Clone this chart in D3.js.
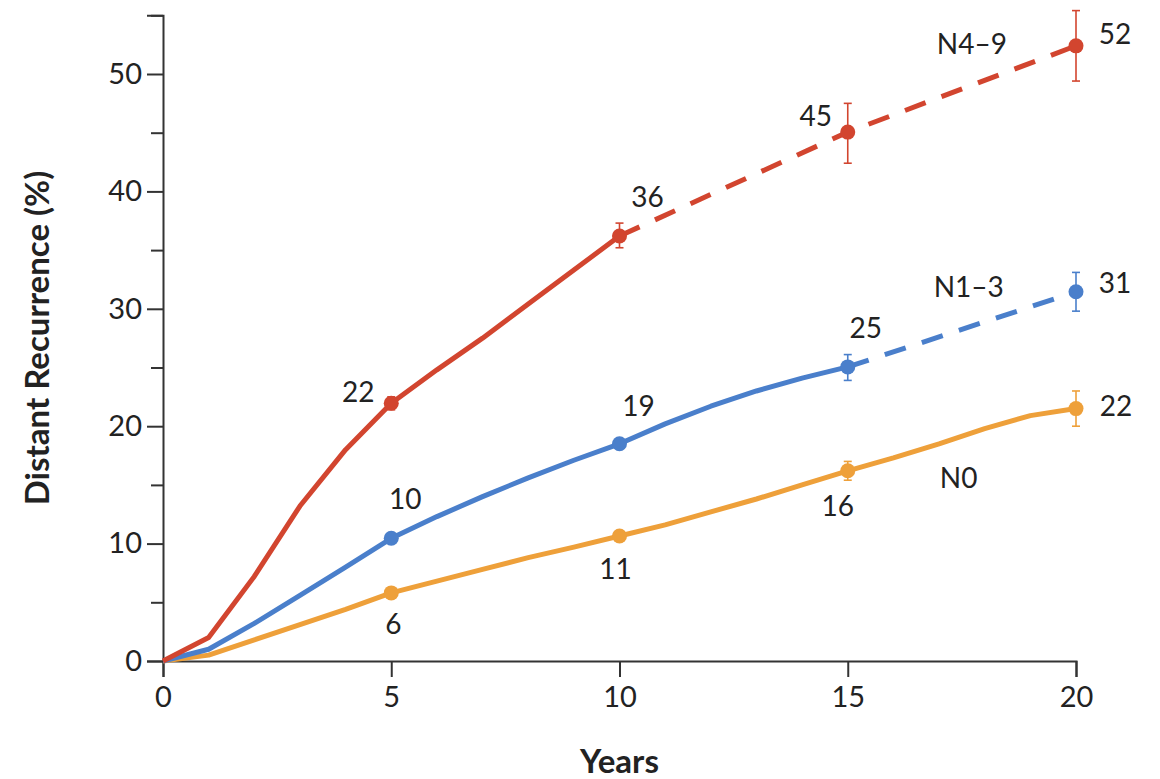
<!DOCTYPE html>
<html>
<head>
<meta charset="utf-8">
<script src="https://cdn.jsdelivr.net/npm/d3@7/dist/d3.min.js"></script>
<style>
  html, body { margin: 0; padding: 0; background: #fff; }
  svg { display: block; }
  text { font-family: Lato, "Noto Sans", sans-serif; fill: #222; }
</style>
</head>
<body>
<svg id="chart" width="1160" height="779"></svg>
<script>
// Cumulative distant recurrence (%) by nodal status, yearly estimates
const years = d3.range(0, 21);
const yearsN0 = years;
const valuesN0 = [0, 0.5, 1.8, 3.1, 4.4, 5.8, 6.8, 7.8, 8.8, 9.7, 10.65,
                  11.6, 12.7, 13.8, 15.0, 16.2, 17.3, 18.5, 19.8, 20.9, 21.5];

const yearsN13Solid = d3.range(0, 16);
const valuesN13Solid = [0, 1.0, 3.2, 5.6, 8.0, 10.45, 12.3, 14.0, 15.6, 17.1, 18.5,
                        20.2, 21.7, 23.0, 24.1, 25.05];
const yearsN13Dashed = [15, 20];
const valuesN13Dashed = [25.05, 31.45];

const yearsN49Solid = d3.range(0, 11);
const valuesN49Solid = [0, 2.0, 7.2, 13.2, 18.0, 21.95, 24.8, 27.5, 30.4, 33.3, 36.2];
const yearsN49Dashed = [10, 15, 20];
const valuesN49Dashed = [36.2, 45.05, 52.4];

// Marked time points with 95% intervals
const markYears = [5, 10, 15, 20];
const markN0 = [5.8, 10.65, 16.2, 21.5];
const lowN0 = [5.4, 10.3, 15.4, 20.0];
const highN0 = [6.2, 11.0, 17.0, 23.0];
const markN13 = [10.45, 18.5, 25.05, 31.45];
const lowN13 = [10.1, 18.1, 23.9, 29.8];
const highN13 = [10.8, 18.9, 26.1, 33.1];
const markN49 = [21.95, 36.2, 45.05, 52.4];
const lowN49 = [21.4, 35.2, 42.4, 49.4];
const highN49 = [22.5, 37.3, 47.5, 55.4];

const seriesNames = ["N0", "N1\u20133", "N4\u20139"];
const xTicks = [0, 5, 10, 15, 20];
const yTicks = [0, 10, 20, 30, 40, 50];
const yMinorTicks = [5, 15, 25, 35, 45, 55];

// ---- layout ----
const svg = d3.select("#chart");
const x = d3.scaleLinear().domain([0, 20]).range([163, 1076]);
const y = d3.scaleLinear().domain([0, 55]).range([661, 15.3]);

const colors = { n0: "#eea03a", n13: "#4a7fcb", n49: "#d2452f" };
const axisColor = "#333";

// axes
const yMinor = svg.append("g").attr("transform", `translate(${x(0)},0)`)
  .call(d3.axisLeft(y).tickValues(yMinorTicks).tickSize(12).tickFormat(""));
const yAxis = svg.append("g").attr("transform", `translate(${x(0)},0)`)
  .call(d3.axisLeft(y).tickValues(yTicks).tickSize(16).tickPadding(5).tickFormat(d3.format("d")));
const xAxis = svg.append("g").attr("transform", `translate(0,${y(0)})`)
  .call(d3.axisBottom(x).tickValues(xTicks).tickSize(16).tickPadding(9).tickFormat(d3.format("d")));

[yMinor, yAxis, xAxis].forEach(g => {
  g.selectAll("path.domain").attr("stroke", axisColor).attr("stroke-width", 2);
  g.selectAll(".tick line").attr("stroke", axisColor).attr("stroke-width", 2);
  g.selectAll(".tick text").style("font-size", "29px").attr("fill", "#222");
});
yMinor.select("path.domain").remove();

// axis titles
svg.append("text")
  .attr("transform", `translate(49,338) rotate(-90)`)
  .attr("text-anchor", "middle")
  .style("font-size", "33px").style("font-weight", "bold")
  .text("Distant Recurrence (%)");
svg.append("text")
  .attr("x", x(10)).attr("y", 773)
  .attr("text-anchor", "middle")
  .style("font-size", "33px").style("font-weight", "bold")
  .text("Years");

// lines
const line = d3.line().x(d => x(d[0])).y(d => y(d[1]));
function drawLine(xs, vs, color, dashed) {
  svg.append("path")
    .datum(xs.map((t, i) => [t, vs[i]]))
    .attr("d", line)
    .attr("fill", "none")
    .attr("stroke", color)
    .attr("stroke-width", 5)
    .attr("stroke-linejoin", "round")
    .attr("stroke-dasharray", dashed ? "22,17" : null);
}
drawLine(yearsN0, valuesN0, colors.n0, false);
drawLine(yearsN13Solid, valuesN13Solid, colors.n13, false);
drawLine(yearsN13Dashed, valuesN13Dashed, colors.n13, true);
drawLine(yearsN49Solid, valuesN49Solid, colors.n49, false);
drawLine(yearsN49Dashed, valuesN49Dashed, colors.n49, true);

// error bars and point markers
function drawMarks(vals, lows, highs, color) {
  const g = svg.append("g");
  markYears.forEach((t, i) => {
    const cx = x(t);
    g.append("line").attr("x1", cx).attr("x2", cx)
      .attr("y1", y(lows[i])).attr("y2", y(highs[i]))
      .attr("stroke", color).attr("stroke-width", 1.6);
    [lows[i], highs[i]].forEach(v => {
      g.append("line").attr("x1", cx - 4).attr("x2", cx + 4)
        .attr("y1", y(v)).attr("y2", y(v))
        .attr("stroke", color).attr("stroke-width", 1.6);
    });
    g.append("circle").attr("cx", cx).attr("cy", y(vals[i])).attr("r", 7.5).attr("fill", color);
  });
}
drawMarks(markN0, lowN0, highN0, colors.n0);
drawMarks(markN13, lowN13, highN13, colors.n13);
drawMarks(markN49, lowN49, highN49, colors.n49);

// value labels, offset in pixels from each marker
const labelOffsets = {
  n49: [[-33, -12], [28, -40], [-32, -17], [39, -13]],
  n13: [[14, -40], [19, -39], [18, -40], [39, -10]],
  n0:  [[2, 30], [-4, 32], [-10, 34], [40, -4]]
};
function drawValueLabels(vals, offsets) {
  markYears.forEach((t, i) => {
    svg.append("text")
      .attr("x", x(t) + offsets[i][0])
      .attr("y", y(vals[i]) + offsets[i][1])
      .attr("text-anchor", "middle")
      .attr("dominant-baseline", "central")
      .style("font-size", "28px")
      .text(Math.round(vals[i]));
  });
}
drawValueLabels(markN49, labelOffsets.n49);
drawValueLabels(markN13, labelOffsets.n13);
drawValueLabels(markN0, labelOffsets.n0);

// series names
const namePos = [[17.43, 15.7], [17.65, 31.9], [17.72, 52.6]];
seriesNames.forEach((name, i) => {
  svg.append("text")
    .attr("x", x(namePos[i][0])).attr("y", y(namePos[i][1]))
    .attr("text-anchor", "middle")
    .attr("dominant-baseline", "central")
    .style("font-size", "28px")
    .text(name);
});
</script>
</body>
</html>
